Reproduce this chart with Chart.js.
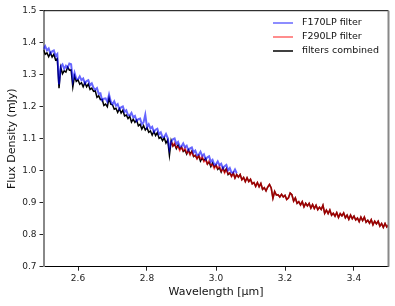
<!DOCTYPE html>
<html>
<head>
<meta charset="utf-8">
<script src="https://cdn.jsdelivr.net/npm/chart.js@4"></script>
<style>
    body { margin: 0; background: #fff; }
    #wrap { width: 395px; height: 306px; }
</style>
</head>
<body>
<div id="wrap"><canvas id="spectrum"></canvas></div>
<script>
// wavelength sampling (µm)
const waveStep = 0.005;
const combinedStart = 2.5;
const f170Start = 2.5;
const f290Start = 2.87;

// filters combined, 2.500 .. 3.500 µm
const combined = [
    1.378, 1.364, 1.368, 1.356, 1.368, 1.355, 1.364, 1.346, 1.350, 1.258,
    1.323, 1.303, 1.312, 1.308, 1.324, 1.314, 1.315, 1.262, 1.296, 1.279,
    1.284, 1.270, 1.275, 1.262, 1.275, 1.262, 1.271, 1.254, 1.258, 1.248,
    1.250, 1.229, 1.234, 1.222, 1.223, 1.204, 1.208, 1.200, 1.228, 1.208,
    1.206, 1.192, 1.195, 1.182, 1.194, 1.180, 1.189, 1.171, 1.174, 1.163,
    1.170, 1.152, 1.161, 1.151, 1.158, 1.140, 1.145, 1.130, 1.141, 1.127,
    1.134, 1.120, 1.124, 1.111, 1.123, 1.110, 1.119, 1.101, 1.105, 1.094,
    1.103, 1.086, 1.096, 1.048, 1.094, 1.077, 1.083, 1.069, 1.080, 1.067,
    1.074, 1.060, 1.065, 1.052, 1.065, 1.052, 1.061, 1.044, 1.048, 1.038,
    1.047, 1.030, 1.040, 1.031, 1.038, 1.021, 1.027, 1.013, 1.024, 1.011,
    1.018, 1.004, 1.009, 0.996, 1.009, 0.996, 1.006, 0.988, 0.993, 0.983,
    0.993, 0.977, 0.988, 0.980, 0.988, 0.972, 0.979, 0.966, 0.978, 0.966,
    0.973, 0.959, 0.963, 0.951, 0.963, 0.950, 0.960, 0.942, 0.947, 0.937,
    0.949, 0.957, 0.946, 0.914, 0.935, 0.924, 0.925, 0.918, 0.926, 0.918,
    0.923, 0.910, 0.915, 0.930, 0.925, 0.905, 0.915, 0.898, 0.903, 0.893,
    0.903, 0.887, 0.898, 0.890, 0.898, 0.883, 0.894, 0.882, 0.892, 0.878,
    0.886, 0.879, 0.892, 0.867, 0.877, 0.866, 0.877, 0.861, 0.867, 0.858,
    0.869, 0.854, 0.866, 0.859, 0.868, 0.853, 0.861, 0.848, 0.861, 0.850,
    0.858, 0.846, 0.852, 0.841, 0.855, 0.844, 0.855, 0.839, 0.845, 0.836,
    0.847, 0.831, 0.842, 0.834, 0.842, 0.827, 0.835, 0.823, 0.835, 0.824,
    0.830
];

// F170LP, 2.500 .. 3.060 µm
const f170 = [
    1.380, 1.389, 1.376, 1.382, 1.366, 1.373, 1.376, 1.359, 1.365, 1.270,
    1.326, 1.332, 1.318, 1.328, 1.321, 1.335, 1.333, 1.282, 1.306, 1.287,
    1.286, 1.295, 1.283, 1.288, 1.273, 1.280, 1.283, 1.267, 1.273, 1.259,
    1.253, 1.258, 1.240, 1.242, 1.220, 1.225, 1.226, 1.215, 1.238, 1.216,
    1.208, 1.217, 1.203, 1.208, 1.192, 1.198, 1.201, 1.184, 1.189, 1.174,
    1.173, 1.181, 1.167, 1.171, 1.155, 1.161, 1.163, 1.145, 1.151, 1.175,
    1.136, 1.145, 1.132, 1.137, 1.121, 1.128, 1.131, 1.114, 1.120, 1.105,
    1.106, 1.115, 1.102, 1.068, 1.091, 1.098, 1.101, 1.084, 1.090, 1.075,
    1.076, 1.085, 1.073, 1.078, 1.063, 1.070, 1.073, 1.057, 1.063, 1.049,
    1.050, 1.059, 1.046, 1.051, 1.035, 1.042, 1.045, 1.028, 1.034, 1.019,
    1.020, 1.029, 1.017, 1.022, 1.007, 1.014, 1.018, 1.001, 1.008, 0.994,
    0.994, 1.004, 0.992
];

// F290LP where it overlaps F170LP, 2.870 .. 3.045 µm (after that it follows the combined curve)
const f290Overlap = [
    1.089, 1.077, 1.087, 1.073, 1.075, 1.063,
    1.073, 1.063, 1.071, 1.055, 1.061, 1.049, 1.059, 1.046, 1.048, 1.037,
    1.047, 1.037, 1.044, 1.028, 1.033, 1.021, 1.031, 1.017, 1.019, 1.007,
    1.017, 1.007, 1.015, 0.999, 1.005, 0.993, 1.004, 0.990, 0.993, 0.982
];
const f290 = f290Overlap.concat(combined.slice(110));

const xTicks = [2.6, 2.8, 3.0, 3.2, 3.4];
const seriesLabels = ['F170LP filter', 'F290LP filter', 'filters combined'];

function toPoints(start, values) {
    return values.map((v, i) => ({ x: +(start + i * waveStep).toFixed(3), y: v }));
}

// legend inside the plot, top right
const legendInside = {
    id: 'legendInside',
    afterDraw(chart) {
        const ctx = chart.ctx;
        ctx.save();
        ctx.font = '9.5px "DejaVu Sans"';
        ctx.textBaseline = 'middle';
        chart.data.datasets.forEach((ds, i) => {
            const y = 23 + i * 14;
            ctx.strokeStyle = ds.borderColor;
            ctx.lineWidth = 1.5;
            ctx.beginPath();
            ctx.moveTo(273, y);
            ctx.lineTo(293, y);
            ctx.stroke();
            ctx.fillStyle = '#111';
            ctx.fillText(ds.label, 302, y);
        });
        ctx.restore();
    }
};

// top and right spines
const frame = {
    id: 'frame',
    afterDraw(chart) {
        const a = chart.chartArea;
        const ctx = chart.ctx;
        ctx.save();
        ctx.strokeStyle = '#000';
        ctx.lineWidth = 1;
        ctx.beginPath();
        ctx.moveTo(a.left, a.top);
        ctx.lineTo(a.right, a.top);
        ctx.stroke();
        ctx.strokeStyle = '#888';
        ctx.lineWidth = 2;
        ctx.beginPath();
        ctx.moveTo(a.right, a.top);
        ctx.lineTo(a.right, a.bottom);
        ctx.stroke();
        ctx.restore();
    }
};

const ctx = document.getElementById('spectrum').getContext('2d');
new Chart(ctx, {
    type: 'line',
    data: {
        datasets: [
            {
                label: seriesLabels[0],
                data: toPoints(f170Start, f170),
                borderColor: 'rgba(0, 0, 255, 0.6)',
                borderWidth: 2
            },
            {
                label: seriesLabels[1],
                data: toPoints(f290Start, f290),
                borderColor: 'rgba(255, 0, 0, 0.6)',
                borderWidth: 1.7
            },
            {
                label: seriesLabels[2],
                data: toPoints(combinedStart, combined),
                borderColor: '#000',
                borderWidth: 1.5
            }
        ]
    },
    options: {
        responsive: true,
        maintainAspectRatio: false,
        animation: false,
        elements: { point: { radius: 0 }, line: { tension: 0 } },
        layout: { padding: { top: 10.7, right: 6.5, left: 0, bottom: 0 } },
        plugins: {
            legend: { display: false },
            tooltip: { enabled: false }
        },
        scales: {
            x: {
                type: 'linear',
                min: 2.5,
                max: 3.5,
                afterBuildTicks: scale => { scale.ticks = xTicks.map(v => ({ value: v })); },
                afterFit: scale => { scale.height = 39.3; },
                grid: { drawOnChartArea: false, tickLength: 4, color: '#222' },
                border: { color: '#000', width: 1 },
                ticks: {
                    color: '#222',
                    padding: 3,
                    maxRotation: 0,
                    font: { family: 'DejaVu Sans', size: 9 },
                    callback: v => v.toFixed(1)
                },
                title: {
                    display: true,
                    text: 'Wavelength [μm]',
                    color: '#111',
                    font: { family: 'DejaVu Sans', size: 11 },
                    padding: { top: 0, bottom: 7.7 }
                }
            },
            y: {
                min: 0.7,
                max: 1.5,
                afterFit: scale => { scale.width = 43.5; },
                grid: { drawOnChartArea: false, tickLength: 4, color: '#222' },
                border: { color: '#888', width: 2 },
                ticks: {
                    stepSize: 0.1,
                    color: '#222',
                    padding: 3,
                    font: { family: 'DejaVu Sans', size: 9 },
                    callback: v => v.toFixed(1)
                },
                title: {
                    display: true,
                    text: 'Flux Density (mJy)',
                    color: '#111',
                    font: { family: 'DejaVu Sans', size: 11 },
                    padding: { top: 5.4, bottom: 0 }
                }
            }
        }
    },
    plugins: [legendInside, frame]
});
</script>
</body>
</html>
